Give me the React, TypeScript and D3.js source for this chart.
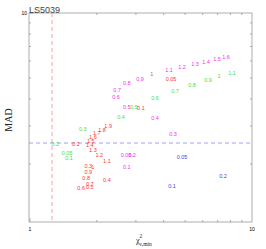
import React from 'react';
import * as d3 from 'd3';

const W = 266;
const H = 249;

// label text, chi2, MAD
const redLabels = ['0.05', '0.1', '0.2', '0.3', '0.4', '0.5', '0.6', '0.7', '0.8', '0.9', '1', '1.1', '1.2', '1.3', '1.4', '1.5', '1.6', '1.7', '1.8', '1.9'];
const redChi = [4.32, 3.16, 1.61, 1.83, 2.22, 1.86, 1.7, 1.86, 1.79, 1.83, 1.92, 2.22, 2.05, 1.92, 1.86, 1.88, 1.92, 2.0, 2.11, 2.25];
const redMad = [4.95, 3.63, 2.47, 1.96, 1.69, 1.56, 1.55, 1.62, 1.72, 1.84, 1.94, 2.06, 2.2, 2.32, 2.45, 2.56, 2.67, 2.78, 2.87, 3.0];

const magLabels = ['0.05', '0.1', '0.2', '0.3', '0.4', '0.5', '0.6', '0.7', '0.8', '0.9', '1', '1.1', '1.2', '1.3', '1.4', '1.5', '1.6'];
const magChi = [2.71, 2.73, 2.88, 4.41, 3.66, 2.73, 2.44, 2.47, 2.73, 3.13, 3.54, 4.23, 4.84, 5.54, 6.21, 6.96, 7.64];
const magMad = [2.2, 1.94, 2.2, 2.75, 3.26, 3.67, 4.08, 4.4, 4.74, 4.95, 5.22, 5.45, 5.62, 5.81, 5.93, 6.12, 6.26];

const greenLabels = ['0.05', '0.1', '0.2', '0.3', '0.4', '0.5', '0.6', '0.7', '0.8', '0.9', '1', '1.1'];
const greenChi = [1.47, 1.5, 1.3, 1.73, 2.57, 2.94, 3.66, 4.5, 5.37, 6.34, 7.1, 8.13];
const greenMad = [2.25, 2.13, 2.47, 2.9, 3.3, 3.67, 4.04, 4.35, 4.64, 4.89, 5.11, 5.28];

const blueLabels = ['0.05', '0.1', '0.2'];
const blueChi = [4.84, 4.36, 7.4];
const blueMad = [2.15, 1.58, 1.76];

const chiCut = 1.256;
const madCut = 2.5;
const minorTicks = [2, 3, 4, 5, 6, 7, 8, 9];

const series = [
  { labels: greenLabels, chi: greenChi, mad: greenMad, color: '#44dd44' },
  { labels: magLabels, chi: magChi, mad: magMad, color: '#ee33ee' },
  { labels: redLabels, chi: redChi, mad: redMad, color: '#ff3333' },
  { labels: blueLabels, chi: blueChi, mad: blueMad, color: '#4444dd' },
];

export default function App() {
  const x = d3.scaleLog().domain([1, 10]).range([30, 252]);
  const y = d3.scaleLog().domain([1, 10]).range([229, 13]);
  const left = 29;
  const right = 252;
  const top = 13;
  const bottom = 222;
  const axisColor = '#999';

  return (
    <svg width={W} height={H} style={{ position: 'absolute', left: 0, top: 0, background: '#fff' }}>
      <rect x={left} y={top} width={right - left} height={bottom - top} fill="none" stroke={axisColor} strokeWidth={0.8} />
      {minorTicks.map((t) => (
        <g key={'t' + t} stroke={axisColor} strokeWidth={0.8}>
          <line x1={x(t)} x2={x(t)} y1={bottom} y2={bottom - 2} />
          <line x1={x(t)} x2={x(t)} y1={top} y2={top + 2} />
          <line x1={left} x2={left + 2} y1={y(t)} y2={y(t)} />
          <line x1={right} x2={right - 2} y1={y(t)} y2={y(t)} />
        </g>
      ))}
      <line x1={x(1)} x2={x(1)} y1={bottom} y2={bottom - 4} stroke={axisColor} strokeWidth={0.8} />
      <line x1={left} x2={left + 4} y1={y(10)} y2={y(10)} stroke={axisColor} strokeWidth={0.8} />
      <line x1={x(chiCut)} x2={x(chiCut)} y1={top} y2={bottom} stroke="#ff8888" strokeWidth={0.8} strokeDasharray="4,3" />
      <line x1={left} x2={right} y1={y(madCut)} y2={y(madCut)} stroke="#8888ff" strokeWidth={0.8} strokeDasharray="4,3" />
      {series.map((s, si) =>
        s.labels.map((lab, i) => (
          <text
            key={si + '-' + i}
            x={x(s.chi[i])}
            y={y(s.mad[i])}
            dy="0.35em"
            textAnchor="middle"
            fontFamily="Liberation Sans, Arial, sans-serif"
            fontSize={5.5}
            fill={s.color}
          >
            {lab}
          </text>
        ))
      )}
      <text x={29} y={13} fontFamily="Liberation Sans, Arial, sans-serif" fontSize={9} fill="#444">LS5039</text>
      <text x={27} y={15} textAnchor="end" fontFamily="Liberation Sans, Arial, sans-serif" fontSize={5} fill="#000">10</text>
      <text x={30} y={231} textAnchor="middle" fontFamily="Liberation Sans, Arial, sans-serif" fontSize={5} fill="#000">1</text>
      <text x={252} y={231} textAnchor="middle" fontFamily="Liberation Sans, Arial, sans-serif" fontSize={5} fill="#000">10</text>
      <text transform="translate(12,120) rotate(-90)" textAnchor="middle" fontFamily="Liberation Serif, Times New Roman, serif" fontSize={10} fill="#222">MAD</text>
      <text x={136} y={243} fontFamily="Liberation Serif, Times New Roman, serif" fontSize={8} fill="#222">
        χ
        <tspan dy={-5} fontSize={5.5}>2</tspan>
        <tspan dx={-3} dy={8} fontSize={5.5}>ν,min</tspan>
      </text>
    </svg>
  );
}
